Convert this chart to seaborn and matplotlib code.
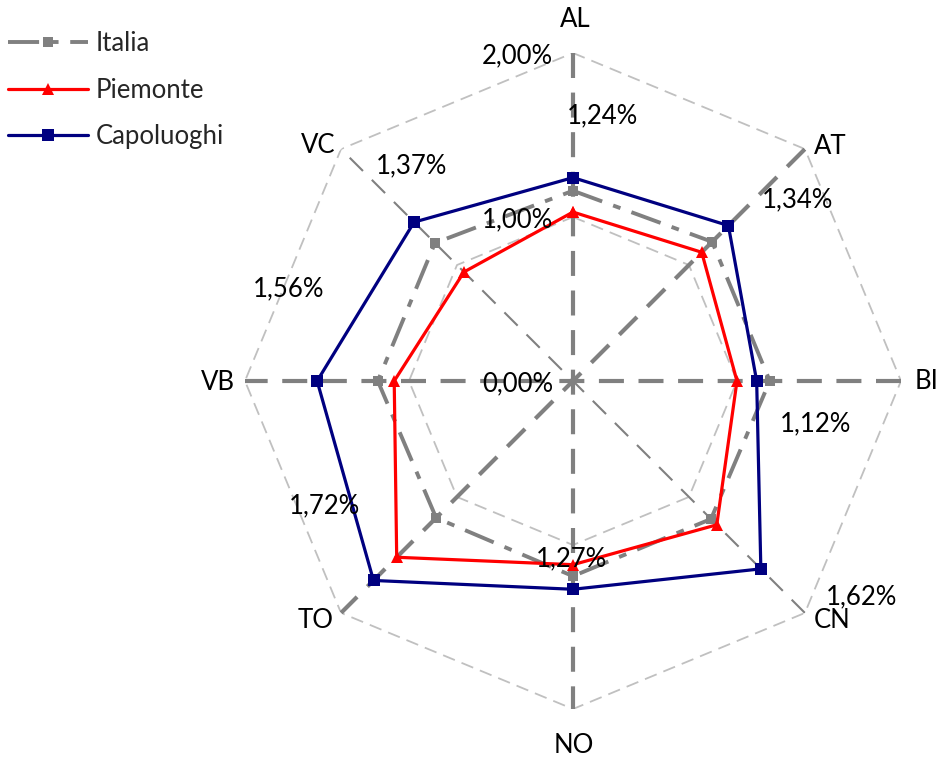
import numpy as np
import pandas as pd
import matplotlib
matplotlib.use("Agg")
import matplotlib.pyplot as plt
import seaborn as sns
from matplotlib.lines import Line2D

# Province axes (clockwise from the top) and the three series, in percent
provinces = ["AL", "AT", "BI", "CN", "NO", "TO", "VB", "VC"]
italia = [1.16, 1.20, 1.20, 1.19, 1.19, 1.18, 1.19, 1.19]
piemonte = [1.03, 1.11, 1.00, 1.24, 1.12, 1.52, 1.09, 0.94]
capoluoghi = [1.24, 1.34, 1.12, 1.62, 1.27, 1.72, 1.56, 1.37]
capoluoghi_labels = ["1,24%", "1,34%", "1,12%", "1,62%", "1,27%", "1,72%", "1,56%", "1,37%"]

grid_levels = [0.0, 1.0, 2.0]
grid_labels = ["0,00%", "1,00%", "2,00%"]
r_max = 2.0

sns.set_style("white")
plt.rcParams["font.family"] = ["Lato", "DejaVu Sans"]
FS = 18.5

GREY = "#808080"
GRID = "#C0C0C0"
RED = "#FF0000"
NAVY = "#000080"

n = len(provinces)
theta = np.arange(n) * 2 * np.pi / n
theta_closed = np.append(theta, 2 * np.pi)


def closed(values):
    return pd.DataFrame({"theta": theta_closed, "value": list(values) + [values[0]]})


fig = plt.figure(figsize=(9.4, 7.6), dpi=100)
ax = fig.add_axes([0.2606, 0.0671, 0.6979, 0.8632], projection="polar")
ax.set_theta_zero_location("N")
ax.set_theta_direction(-1)
ax.grid(False)
ax.spines["polar"].set_visible(False)
ax.patch.set_alpha(0)

# octagonal gridlines at 1% and 2%
for lvl in grid_levels[1:]:
    sns.lineplot(data=closed([lvl] * n), x="theta", y="value", sort=False,
                 estimator=None, ax=ax, color=GRID, lw=1.3,
                 linestyle=(0, (7, 4)), zorder=1)

# spokes: three heavy dashed diameters and one light one
heavy = [(0, 4), (1, 5), (2, 6)]
light = [(3, 7)]
for pairs, lw, dash in ((heavy, 3.0, (6, 3.5)), (light, 1.5, (9, 6))):
    for a, b in pairs:
        spoke = pd.DataFrame({"theta": [theta[a], theta[a], theta[b]],
                              "value": [r_max, 0.0, r_max]})
        sns.lineplot(data=spoke, x="theta", y="value", sort=False,
                     estimator=None, ax=ax, color=GREY, lw=lw,
                     linestyle=(0, dash), zorder=2)

# series
italia_ls = (0, (8, 3, 2, 3))
sns.lineplot(data=closed(italia), x="theta", y="value", sort=False, estimator=None,
             ax=ax, color=GREY, lw=2.8, linestyle=italia_ls, marker="s",
             markersize=6.5, markeredgewidth=0, zorder=3)
sns.lineplot(data=closed(piemonte), x="theta", y="value", sort=False, estimator=None,
             ax=ax, color=RED, lw=2.3, marker="^", markersize=9,
             markeredgewidth=0, zorder=4)
sns.lineplot(data=closed(capoluoghi), x="theta", y="value", sort=False, estimator=None,
             ax=ax, color=NAVY, lw=2.3, marker="s", markersize=8,
             markeredgewidth=0, zorder=5)

ax.set_ylim(0, r_max)
ax.set_xticks([])
ax.set_yticks([])
ax.set_xlabel("")
ax.set_ylabel("")

# radial scale labels, left of the vertical axis
for lvl, txt in zip(grid_levels, grid_labels):
    ax.annotate(txt, xy=(0, lvl), xytext=(-20, -3), textcoords="offset pixels",
                ha="right", va="center", fontsize=FS, color="black",
                annotation_clip=False, zorder=6)

# province names just beyond the outer ring
name_offsets = [(2, 33), (25, 3), (26, -1), (27, -8), (1, -36), (-25, -8), (-27, -2), (-23, 4)]
for t, name, off in zip(theta, provinces, name_offsets):
    ax.annotate(name, xy=(t, r_max), xytext=off, textcoords="offset pixels",
                ha="center", va="center", fontsize=FS, color="black",
                annotation_clip=False)

# value labels for the Capoluoghi series
value_offsets = [(30, 62), (69, 26), (59, -43), (101, -28), (-1, 30), (-49, 75), (-29, 92), (-3, 56)]
for t, v, txt, off in zip(theta, capoluoghi, capoluoghi_labels, value_offsets):
    ax.annotate(txt, xy=(t, v), xytext=off, textcoords="offset pixels",
                ha="center", va="center", fontsize=FS, color="black",
                annotation_clip=False, zorder=7)

handles = [
    Line2D([], [], color=GREY, lw=2.8, linestyle=italia_ls, marker="s",
           markersize=6.5, markeredgewidth=0),
    Line2D([], [], color=RED, lw=2.3, marker="^", markersize=9, markeredgewidth=0),
    Line2D([], [], color=NAVY, lw=2.3, marker="s", markersize=8, markeredgewidth=0),
]
fig.legend(handles, ["Italia", "Piemonte", "Capoluoghi"], loc="upper left",
           bbox_to_anchor=(0.008, 0.959), frameon=False, fontsize=FS,
           handlelength=3.15, handletextpad=0.28, labelspacing=0.84,
           borderpad=0, borderaxespad=0)

fig.savefig("out.png", dpi=100)
